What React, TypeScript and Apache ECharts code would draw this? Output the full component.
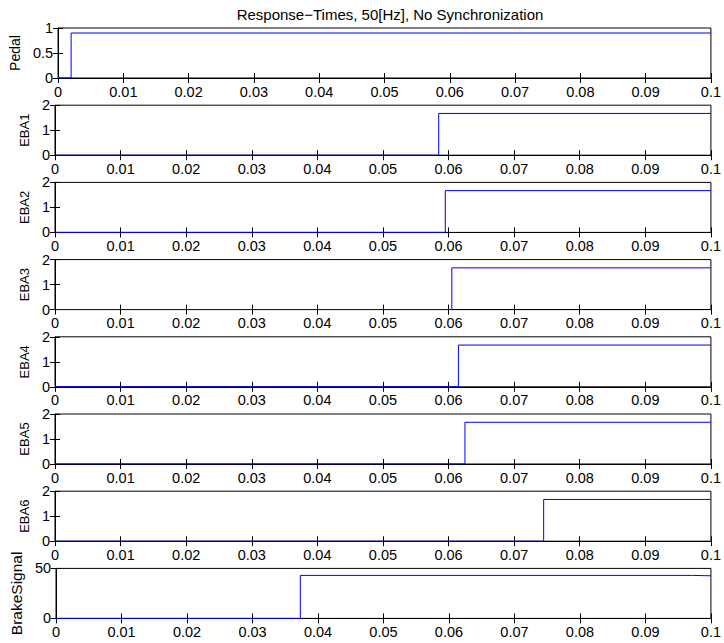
import React, { useEffect, useRef } from "react";
import * as echarts from "echarts";

const panelNames = ["Pedal", "EBA1", "EBA2", "EBA3", "EBA4", "EBA5", "EBA6", "BrakeSignal"];
const yMax = [1, 2, 2, 2, 2, 2, 2, 50];
const yInterval = [0.5, 1, 1, 1, 1, 1, 1, 50];
// step series: [time, value] pairs (step: 'end')
const pedalData = [[0, 0], [0.002, 0.9], [0.1, 0.9]];
const eba1Data = [[0, 0], [0.0585, 1.67], [0.1, 1.67]];
const eba2Data = [[0, 0], [0.0595, 1.67], [0.1, 1.67]];
const eba3Data = [[0, 0], [0.0605, 1.67], [0.1, 1.67]];
const eba4Data = [[0, 0], [0.0615, 1.67], [0.1, 1.67]];
const eba5Data = [[0, 0], [0.0625, 1.67], [0.1, 1.67]];
const eba6Data = [[0, 0], [0.0745, 1.67], [0.1, 1.67]];
const brakeData = [[0, 0], [0.0373, 43], [0.0972, 42.6], [0.1, 42.6]];
const seriesData = [pedalData, eba1Data, eba2Data, eba3Data, eba4Data, eba5Data, eba6Data, brakeData];
const xTicks = [0, 0.01, 0.02, 0.03, 0.04, 0.05, 0.06, 0.07, 0.08, 0.09, 0.1];
const title = "Response\u2212Times, 50[Hz], No Synchronization";

const FONT = "Liberation Sans, Arial, Helvetica, sans-serif";
const nameFont = [14, 13, 13, 13, 13, 13, 13, 15.5];
const nameGaps = [34, 19, 19, 19, 19, 19, 19, 29];

export default function App() {
  const ref = useRef<HTMLDivElement>(null);
  useEffect(() => {
    if (!ref.current) return;
    const chart = echarts.init(ref.current, null, { renderer: "svg" });
    const left = 55;
    const width = 660;
    const height = 50;
    const tops = panelNames.map((_, i) => 28 + 77.2 * i);
    const grid: any[] = [];
    const xAxis: any[] = [];
    const yAxis: any[] = [];
    const series: any[] = [];
    panelNames.forEach((name, i) => {
      grid.push({
        left,
        top: tops[i],
        width,
        height,
        show: true,
        borderColor: "#000",
        borderWidth: 1,
        backgroundColor: "#fff",
      });
      const xBase = {
        type: "value",
        gridIndex: i,
        min: xTicks[0],
        max: xTicks[xTicks.length - 1],
        interval: 0.01,
        splitLine: { show: false },
        axisTick: { inside: true, length: 5, lineStyle: { color: "#000" } },
      };
      xAxis.push({
        ...xBase,
        position: "bottom",
        axisLine: { show: true, lineStyle: { color: "#000", width: 1 } },
        axisLabel: {
          margin: 6,
          color: "#000",
          fontSize: 14.5,
          fontFamily: FONT,
          showMinLabel: true,
          showMaxLabel: true,
          hideOverlap: false,
          formatter: (v: number) => String(+v.toFixed(2)),
        },
      });
      xAxis.push({
        ...xBase,
        position: "top",
        axisLine: { show: false },
        axisLabel: { show: false },
      });
      const yBase = {
        type: "value",
        gridIndex: i,
        min: 0,
        max: yMax[i],
        interval: yInterval[i],
        splitLine: { show: false },
        axisTick: { inside: true, length: 5, lineStyle: { color: "#000" } },
      };
      yAxis.push({
        ...yBase,
        position: "left",
        name,
        nameLocation: "middle",
        nameRotate: 90,
        nameGap: nameGaps[i],
        nameTextStyle: { color: "#000", fontSize: nameFont[i], fontFamily: FONT },
        axisLine: { show: true, lineStyle: { color: "#000", width: 1 } },
        axisLabel: {
          margin: 5,
          color: "#000",
          fontSize: 14.5,
          fontFamily: FONT,
          showMinLabel: true,
          showMaxLabel: true,
          formatter: (v: number) => String(+v.toFixed(2)),
        },
      });
      yAxis.push({
        ...yBase,
        position: "right",
        axisLine: { show: false },
        axisLabel: { show: false },
      });
      series.push({
        type: "line",
        xAxisIndex: 2 * i,
        yAxisIndex: 2 * i,
        step: "end",
        showSymbol: false,
        data: seriesData[i],
        lineStyle: { color: "#0000ff", width: 1 },
        itemStyle: { color: "#0000ff" },
        z: 3,
      });
    });
    chart.setOption({
      animation: false,
      backgroundColor: "#fff",
      title: {
        text: title,
        left: 385,
        textAlign: "center",
        top: 2,
        textStyle: { color: "#000", fontSize: 15, fontWeight: "normal", fontFamily: FONT },
      },
      grid,
      xAxis,
      yAxis,
      series,
    });
    return () => chart.dispose();
  }, []);
  return (
    <div
      ref={ref}
      style={{ position: "fixed", left: 0, top: 0, width: 724, height: 643, background: "#fff" }}
    />
  );
}
